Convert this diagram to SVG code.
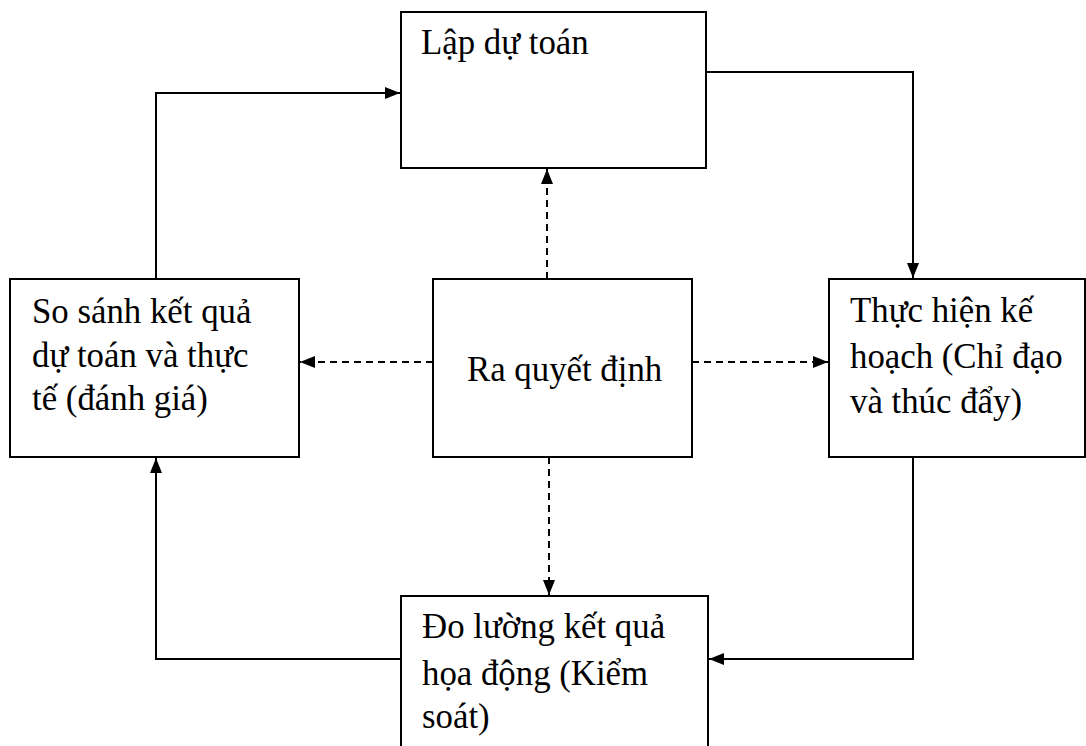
<svg xmlns="http://www.w3.org/2000/svg" width="1086" height="746" viewBox="0 0 1086 746">
<style>
.box{fill:#fff;stroke:#000;stroke-width:2}
.t{font-family:"Liberation Serif","Times New Roman",serif;font-size:34.8px;fill:#000}
.c{fill:none;stroke:#000;stroke-width:2}
.d{fill:none;stroke:#000;stroke-width:2;stroke-dasharray:7 5}
</style>
<defs>
<marker id="ah" markerWidth="15" markerHeight="12" refX="15" refY="6" orient="auto" markerUnits="userSpaceOnUse">
<path d="M0,0 L15,6 L0,12 Z" fill="#000"/>
</marker>
</defs>
<rect width="1086" height="746" fill="#fff"/>
<g id="connectors">
<path class="c" d="M156,279 V93 H400" marker-end="url(#ah)"/>
<path class="c" d="M706,72 H913 V278" marker-end="url(#ah)"/>
<path class="c" d="M913,457 V659 H709" marker-end="url(#ah)"/>
<path class="c" d="M401,659 H156 V458" marker-end="url(#ah)"/>
<path class="d" d="M547,279 V169" marker-end="url(#ah)"/>
<path class="d" d="M433,362 H300" marker-end="url(#ah)"/>
<path class="d" d="M692,362 H828" marker-end="url(#ah)"/>
<path class="d" d="M549,457 V595" marker-end="url(#ah)"/>
</g>
<g id="node-lap">
<rect class="box" x="401" y="12" width="305" height="156"/>
<text class="t" x="421" y="54">Lập dự toán</text>
</g>
<g id="node-sosanh">
<rect class="box" x="10" y="279" width="289" height="178"/>
<text class="t" x="32" y="323">So sánh kết quả</text>
<text class="t" x="32" y="367">dự toán và thực</text>
<text class="t" x="32" y="410">tế (đánh giá)</text>
</g>
<g id="node-ra">
<rect class="box" x="433" y="279" width="259" height="178"/>
<text class="t" x="467" y="381">Ra quyết định</text>
</g>
<g id="node-thuchien">
<rect class="box" x="829" y="279" width="256" height="178"/>
<text class="t" x="850" y="322">Thực hiện kế</text>
<text class="t" x="850" y="368">hoạch (Chỉ đạo</text>
<text class="t" x="850" y="413">và thúc đẩy)</text>
</g>
<g id="node-doluong">
<rect class="box" x="401" y="596" width="307" height="160"/>
<text class="t" x="422" y="638">Đo lường kết quả</text>
<text class="t" x="422" y="685">họa động (Kiểm</text>
<text class="t" x="422" y="728">soát)</text>
</g>
</svg>
